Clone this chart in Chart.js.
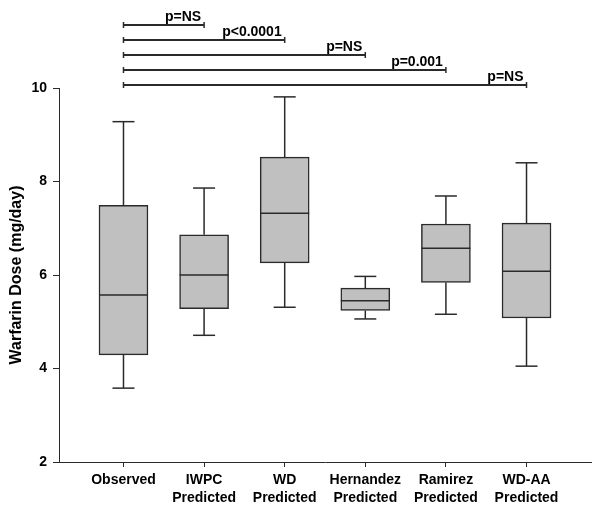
<!DOCTYPE html>
<html>
<head>
<meta charset="utf-8">
<script src="https://cdn.jsdelivr.net/npm/chart.js@4.4.0/dist/chart.umd.min.js"></script>
<style>
    html, body { margin: 0; padding: 0; background: #fff; }
    #kutu { width: 600px; height: 514px; position: relative; }
</style>
</head>
<body>
<div id="kutu"><canvas id="dozGrafik"></canvas></div>
<script>

// groups on the x axis (two-line labels)
const gruplar = [
    ["Observed"],
    ["IWPC", "Predicted"],
    ["WD", "Predicted"],
    ["Hernandez", "Predicted"],
    ["Ramirez", "Predicted"],
    ["WD-AA", "Predicted"]
];
const konumlar = [1, 2, 3, 4, 5, 6];

// box plot values (mg/day)
const altBiyik = [3.58, 4.71, 5.31, 5.06, 5.16, 4.05];
const q1 = [4.29, 5.28, 6.26, 5.24, 5.84, 5.08];
const medyan = [5.57, 6.00, 7.32, 5.45, 6.57, 6.08];
const q3 = [7.49, 6.86, 8.52, 5.72, 7.09, 7.11];
const ustBiyik = [9.28, 7.86, 9.81, 5.97, 7.69, 8.40];

// comparisons vs Observed
const karsilastirma = [2, 3, 4, 5, 6];
const pDegerleri = ["p=NS", "p<0.0001", "p=NS", "p=0.001", "p=NS"];

const yTikler = [2, 4, 6, 8, 10];

const YAZI = "'Liberation Sans', Arial, sans-serif";
const CIZGI = "#2a2a2a";

Chart.defaults.font.family = YAZI;
Chart.defaults.color = "#000";

function cizgi(ctx, x1, y1, x2, y2) {
    ctx.beginPath();
    ctx.moveTo(x1, y1);
    ctx.lineTo(x2, y2);
    ctx.stroke();
}

// whiskers + median line
const biyiklar = {
    id: "biyiklar",
    afterDatasetsDraw(chart) {
        const { ctx, scales: { x, y } } = chart;
        ctx.save();
        ctx.strokeStyle = CIZGI;
        ctx.lineWidth = 1.5;
        konumlar.forEach((k, i) => {
            const px = x.getPixelForValue(k);
            const ust = y.getPixelForValue(ustBiyik[i]);
            const alt = y.getPixelForValue(altBiyik[i]);
            cizgi(ctx, px, y.getPixelForValue(q3[i]), px, ust);
            cizgi(ctx, px - 11, ust, px + 11, ust);
            cizgi(ctx, px, y.getPixelForValue(q1[i]), px, alt);
            cizgi(ctx, px - 11, alt, px + 11, alt);
            const m = y.getPixelForValue(medyan[i]);
            cizgi(ctx, px - 24.5, m, px + 24.5, m);
        });
        ctx.restore();
    }
};

// significance brackets above the plot
const pCizgileri = {
    id: "pCizgileri",
    afterDraw(chart) {
        const { ctx, chartArea, scales: { x } } = chart;
        ctx.save();
        ctx.strokeStyle = CIZGI;
        ctx.fillStyle = "#000";
        ctx.lineWidth = 2;
        ctx.font = "bold 14px " + YAZI;
        ctx.textAlign = "right";
        ctx.textBaseline = "alphabetic";
        const n = karsilastirma.length;
        karsilastirma.forEach((hedef, i) => {
            const yy = chartArea.top - 3 - (n - 1 - i) * 15;
            const x1 = x.getPixelForValue(konumlar[0]);
            const x2 = x.getPixelForValue(hedef);
            cizgi(ctx, x1, yy, x2, yy);
            ctx.lineWidth = 1.5;
            cizgi(ctx, x1, yy - 3, x1, yy + 3);
            cizgi(ctx, x2, yy - 3, x2, yy + 3);
            ctx.lineWidth = 2;
            ctx.fillText(pDegerleri[i], x2 - 3, yy - 4);
        });
        ctx.restore();
    }
};

const ctx = document.getElementById("dozGrafik");

new Chart(ctx, {
    type: "bar",
    data: {
        datasets: [{
            data: konumlar.map((k, i) => ({ x: k, y: [q1[i], q3[i]] })),
            backgroundColor: "#c0c0c0",
            borderColor: CIZGI,
            borderWidth: 1.5,
            borderSkipped: false,
            barThickness: 49
        }]
    },
    options: {
        responsive: true,
        maintainAspectRatio: false,
        animation: false,
        layout: { padding: { top: 88, right: 9, left: 0, bottom: 0 } },
        plugins: {
            legend: { display: false },
            tooltip: { enabled: false }
        },
        scales: {
            x: {
                type: "linear",
                min: 0.2,
                max: 6.8,
                offset: false,
                afterBuildTicks: (s) => { s.ticks = konumlar.map(v => ({ value: v })); },
                afterFit: (s) => { s.height = 52; },
                ticks: {
                    autoSkip: false,
                    maxRotation: 0,
                    padding: 4,
                    font: { size: 14, weight: "bold", lineHeight: 1.3 },
                    callback: (v) => gruplar[konumlar.indexOf(v)]
                },
                grid: { offset: false, drawOnChartArea: false, drawTicks: true, tickLength: 5, color: CIZGI, lineWidth: 1 },
                border: { display: true, color: CIZGI, width: 1 }
            },
            y: {
                min: 2,
                max: 10,
                afterBuildTicks: (s) => { s.ticks = yTikler.map(v => ({ value: v })); },
                afterFit: (s) => { s.width = 59; },
                ticks: {
                    padding: 6,
                    font: { size: 14, weight: "bold" }
                },
                grid: { drawOnChartArea: false, drawTicks: true, tickLength: 6, color: CIZGI, lineWidth: 1 },
                border: { display: true, color: CIZGI, width: 1 },
                title: {
                    display: true,
                    text: "Warfarin Dose (mg/day)",
                    font: { size: 16, weight: "bold", lineHeight: 1.2 },
                    padding: { top: 7, bottom: 0 }
                }
            }
        }
    },
    plugins: [biyiklar, pCizgileri]
});

</script>
</body>
</html>
